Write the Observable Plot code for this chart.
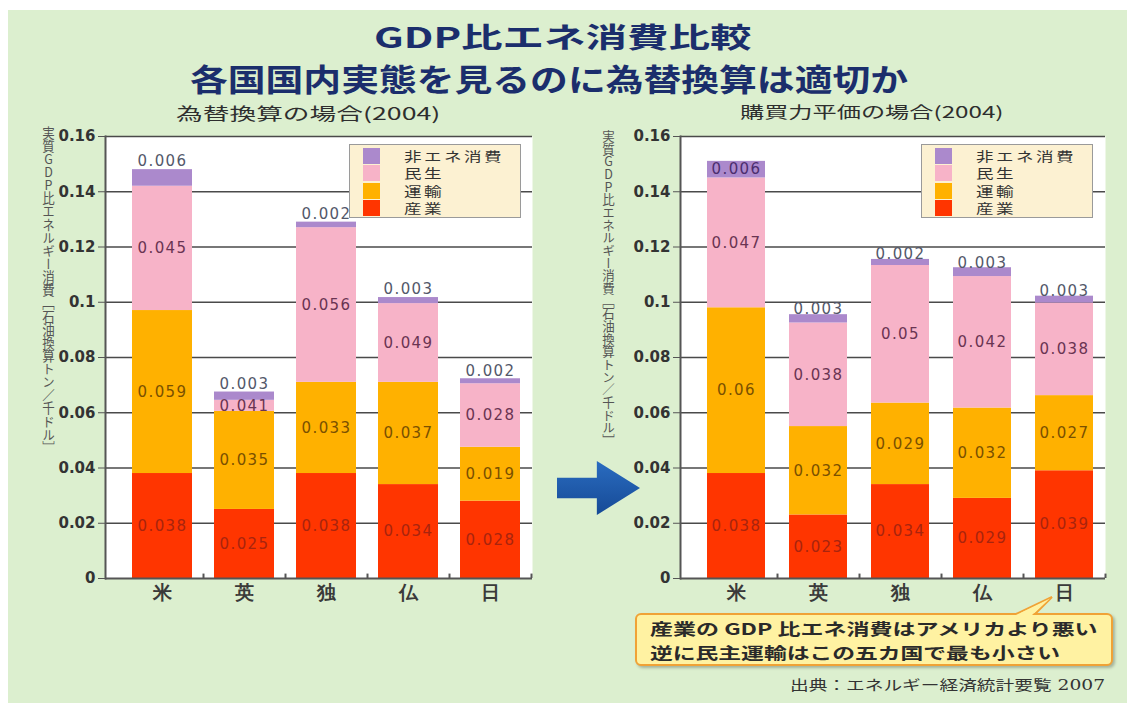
<!DOCTYPE html>
<html><head><meta charset="utf-8">
<script src="https://cdn.jsdelivr.net/npm/d3@7"></script>
<script src="https://cdn.jsdelivr.net/npm/@observablehq/plot@0.6"></script>
<style>
html,body{margin:0;padding:0;}
body{width:1132px;height:703px;background:#fff;position:relative;overflow:hidden;font-family:"Noto Sans CJK JP","Noto Sans",sans-serif;}
#panel{position:absolute;left:8px;top:10px;width:1119px;height:693px;background:#dcefcf;}
.t{position:absolute;white-space:nowrap;line-height:1;}
.title{font-weight:bold;color:#1b2e6c;}
.sub{font-size:17px;color:#2e2e2e;}
.chart{position:absolute;top:120px;}
.ylab{position:absolute;writing-mode:vertical-rl;text-orientation:upright;font-size:12.5px;color:#555;white-space:nowrap;line-height:1;}
.legend{position:absolute;width:172px;height:74px;background:#fcf1d2;border:1.5px solid #9a9a9a;box-sizing:border-box;}
.legend .row{position:absolute;left:0;height:15px;width:100%;}
.legend .sw{position:absolute;left:13px;top:-1px;width:17px;height:16px;}
.legend .lb{position:absolute;left:54px;top:0;font-size:13px;line-height:14px;height:14px;color:#333;white-space:nowrap;transform-origin:0 50%;}
#arrow{position:absolute;left:557px;top:461px;width:83px;height:54px;background:linear-gradient(#2a6cc0,#164a96);clip-path:polygon(0 31%,48% 31%,48% 0,100% 50%,48% 100%,48% 69%,0 69%);}
#callout{position:absolute;left:635px;top:613px;width:478px;height:53px;background:#fff2a2;border:2px solid #f0a236;border-radius:6px;box-sizing:border-box;box-shadow:2px 2px 3px rgba(0,0,0,0.25);}
.co{font-size:16px;font-weight:bold;color:#2a2a2a;}
#src{font-size:14px;color:#333;font-family:"DejaVu Serif","Noto Sans CJK JP",serif;}
</style></head><body>
<div id="panel"></div>
<div class="t title" id="t1" style="font-size:28px">GDP比エネ消費比較</div>
<div class="t title" id="t2" style="font-size:31px">各国国内実態を見るのに為替換算は適切か</div>
<div class="t sub" id="s1">為替換算の場合(2004)</div>
<div class="t sub" id="s2" style="font-size:16px">購買力平価の場合(2004)</div>
<div id="leftChart" class="chart" style="left:0px"></div>
<div id="rightChart" class="chart" style="left:560px"></div>
<div class="ylab" id="yl1">実質GDP比エネルギー消費［石油換算トン／千ドル］</div>
<div class="ylab" id="yl2">実質GDP比エネルギー消費［石油換算トン／千ドル］</div>
<div class="legend" id="lg1" style="left:349px;top:144px"></div>
<div class="legend" id="lg2" style="left:921px;top:144px"></div>
<div id="arrow"></div>
<svg style="position:absolute;left:1000px;top:590px;overflow:visible" width="70" height="30">
  <path d="M14,25 L52,7 L34,25" fill="#fff2a2" stroke="#f0a236" stroke-width="2"/>
</svg>
<div id="callout"></div>
<svg style="position:absolute;left:1000px;top:590px;overflow:visible" width="70" height="30">
  <path d="M16,25 L50,8.5 L32,25 Z" fill="#fff2a2" stroke="none"/>
</svg>
<div class="t co" id="c1">産業の GDP 比エネ消費はアメリカより悪い</div>
<div class="t co" id="c2">逆に民主運輸はこの五カ国で最も小さい</div>
<div class="t" id="src">出典：エネルギー経済統計要覧 2007</div>
<script>
// ---- data ----
const countries = ["米", "英", "独", "仏", "日"];
const series = ["産業", "運輸", "民生", "非エネ消費"];
const yTicks = [0, 0.02, 0.04, 0.06, 0.08, 0.1, 0.12, 0.14, 0.16];

// 為替換算の場合(2004): segment heights as drawn
const fxIndustry    = [0.038, 0.025, 0.038, 0.034, 0.028];
const fxTransport   = [0.059, 0.0355, 0.033, 0.037, 0.0195];
const fxResidential = [0.045, 0.004, 0.056, 0.0285, 0.023];
const fxNonEnergy   = [0.006, 0.003, 0.002, 0.0022, 0.0018];
// printed labels
const fxIndustryLabels    = ["0.038", "0.025", "0.038", "0.034", "0.028"];
const fxTransportLabels   = ["0.059", "0.035", "0.033", "0.037", "0.019"];
const fxResidentialLabels = ["0.045", "0.041", "0.056", "0.049", "0.028"];
const fxNonEnergyLabels   = ["0.006", "0.003", "0.002", "0.003", "0.002"];

// 購買力平価の場合(2004)
const pppIndustry    = [0.038, 0.023, 0.034, 0.029, 0.039];
const pppTransport   = [0.060, 0.032, 0.0295, 0.0327, 0.0272];
const pppResidential = [0.047, 0.0375, 0.0498, 0.0476, 0.0335];
const pppNonEnergy   = [0.006, 0.003, 0.0022, 0.0032, 0.0025];
const pppIndustryLabels    = ["0.038", "0.023", "0.034", "0.029", "0.039"];
const pppTransportLabels   = ["0.06", "0.032", "0.029", "0.032", "0.027"];
const pppResidentialLabels = ["0.047", "0.038", "0.05", "0.042", "0.038"];
const pppNonEnergyLabels   = ["0.006", "0.003", "0.002", "0.003", "0.003"];

const legendOrder = ["非エネ消費", "民生", "運輸", "産業"];
const colors = ["#ff3500", "#ffb100", "#f7b3c8", "#ab89cc"];
const labelColors = {"産業": "#a8240e", "運輸": "#7a5000", "民生": "#6a3452"};

function buildRows(vals, labels) {
  const rows = [];
  countries.forEach((c, i) => {
    let acc = 0;
    series.forEach((s, j) => {
      const v = vals[j][i];
      rows.push({country: c, series: s, y0: acc, y1: acc + v, mid: acc + v / 2, value: v, label: labels[j][i]});
      acc += v;
    });
  });
  return rows;
}

function makeChart(rows, opts) {
  const step = 82;
  const textMarks = ["産業", "運輸", "民生"].map(s =>
    Plot.text(rows.filter(r => r.series === s), {x: "country", y: "mid", text: "label", fill: labelColors[s], fontSize: 15})
  );
  const top = rows.filter(r => r.series === "非エネ消費");
  const inside = top.filter(r => opts.purpleInside && r.value >= 0.005);
  const above = top.filter(r => !(opts.purpleInside && r.value >= 0.005));
  const svg = Plot.plot({
    width: 560, height: 485,
    marginTop: 16, marginBottom: 27, marginLeft: opts.marginLeft, marginRight: opts.marginRight,
    style: {background: "transparent", fontFamily: "DejaVu Sans, sans-serif", overflow: "visible", color: "#444"},
    x: {domain: countries, paddingInner: opts.pad, paddingOuter: opts.pad / 2, insetLeft: opts.insetLeft, insetRight: opts.insetRight, label: null},
    y: {domain: [0, 0.16], label: null},
    color: {domain: series, range: colors},
    marks: [
      Plot.frame({fill: "white", stroke: null}),
      Plot.gridY(yTicks.filter(t => t > 0), {stroke: "#4a4a4a", strokeOpacity: 1, strokeWidth: 1.6}),
      Plot.barY(rows, {x: "country", y1: "y0", y2: "y1", fill: "series"}),
      Plot.ruleY([0], {stroke: "#555", strokeWidth: 2}),
      Plot.frame({anchor: "left", stroke: "#555", strokeWidth: 2}),
      Plot.ruleX(countries, {x: d => d, dx: step / 2, y1: 0, y2: 0.0016, stroke: "#555", strokeWidth: 2}),
      Plot.axisY({ticks: yTicks, tickFormat: d => String(d), tickSize: 7, tickPadding: 3, fontSize: 15, fontWeight: "bold", fill: "#333", stroke: "#555"}),
      Plot.axisX({tickSize: 0, tickPadding: 7, fontSize: 19, fontWeight: "bold", fill: "#3a3a3a"}),
      ...textMarks,
      Plot.text(inside, {x: "country", y: "mid", text: "label", fill: "#4b2d6e", fontSize: 15}),
      Plot.text(above, {x: "country", y: "y1", dy: opts.purpleDy, text: "label", fill: "#53586a", fontSize: 15})
    ]
  });
  svg.querySelectorAll('g[aria-label="text"]').forEach(g => g.setAttribute("letter-spacing", "1.4"));
  return svg;
}

const fxRows = buildRows([fxIndustry, fxTransport, fxResidential, fxNonEnergy],
  [fxIndustryLabels, fxTransportLabels, fxResidentialLabels, fxNonEnergyLabels]);
const pppRows = buildRows([pppIndustry, pppTransport, pppResidential, pppNonEnergy],
  [pppIndustryLabels, pppTransportLabels, pppResidentialLabels, pppNonEnergyLabels]);

document.getElementById("leftChart").append(makeChart(fxRows, {marginLeft: 105, marginRight: 28, insetLeft: 16, insetRight: 1, pad: 0.27, purpleInside: false, purpleDy: -8}));
document.getElementById("rightChart").append(makeChart(pppRows, {marginLeft: 120, marginRight: 15, insetLeft: 15, insetRight: 0, pad: 0.29, purpleInside: true, purpleDy: -5}));

// legends
const color = d3.scaleOrdinal(series, colors);
["lg1", "lg2"].forEach(id => {
  const box = document.getElementById(id);
  legendOrder.forEach((s, i) => {
    const row = document.createElement("div");
    row.className = "row";
    row.style.top = (3.5 + i * 17.6) + "px";
    row.innerHTML = `<div class="sw" style="background:${color(s)}"></div><div class="lb">${s}</div>`;
    box.append(row);
  });
  box.querySelectorAll(".lb").forEach(el => { el.style.transform = "scaleX(1.35)"; el.style.letterSpacing = "1.8px"; });
});

// fit helpers for HTML text
function fitX(id, left, right, cy) {
  const el = document.getElementById(id);
  const w = el.offsetWidth, h = el.offsetHeight;
  el.style.left = left + "px";
  el.style.top = (cy - h / 2) + "px";
  el.style.transformOrigin = "0 50%";
  el.style.transform = `scaleX(${(right - left) / w})`;
}
function fitY(id, cx, top, bottom) {
  const el = document.getElementById(id);
  const w = el.offsetWidth, h = el.offsetHeight;
  el.style.left = (cx - w / 2) + "px";
  el.style.top = top + "px";
  el.style.transformOrigin = "50% 0";
  el.style.transform = `scaleY(${(bottom - top) / h})`;
}
fitX("t1", 374, 752, 36);
fitX("t2", 190, 908, 77);
fitX("s1", 176, 440, 112);
fitX("s2", 740, 1003, 111);
fitX("c1", 650, 1098, 628);
fitX("c2", 650, 1060, 652);
fitX("src", 790, 1105, 685);
fitY("yl1", 48, 126, 455);
fitY("yl2", 608, 130, 447);
</script>
</body></html>
